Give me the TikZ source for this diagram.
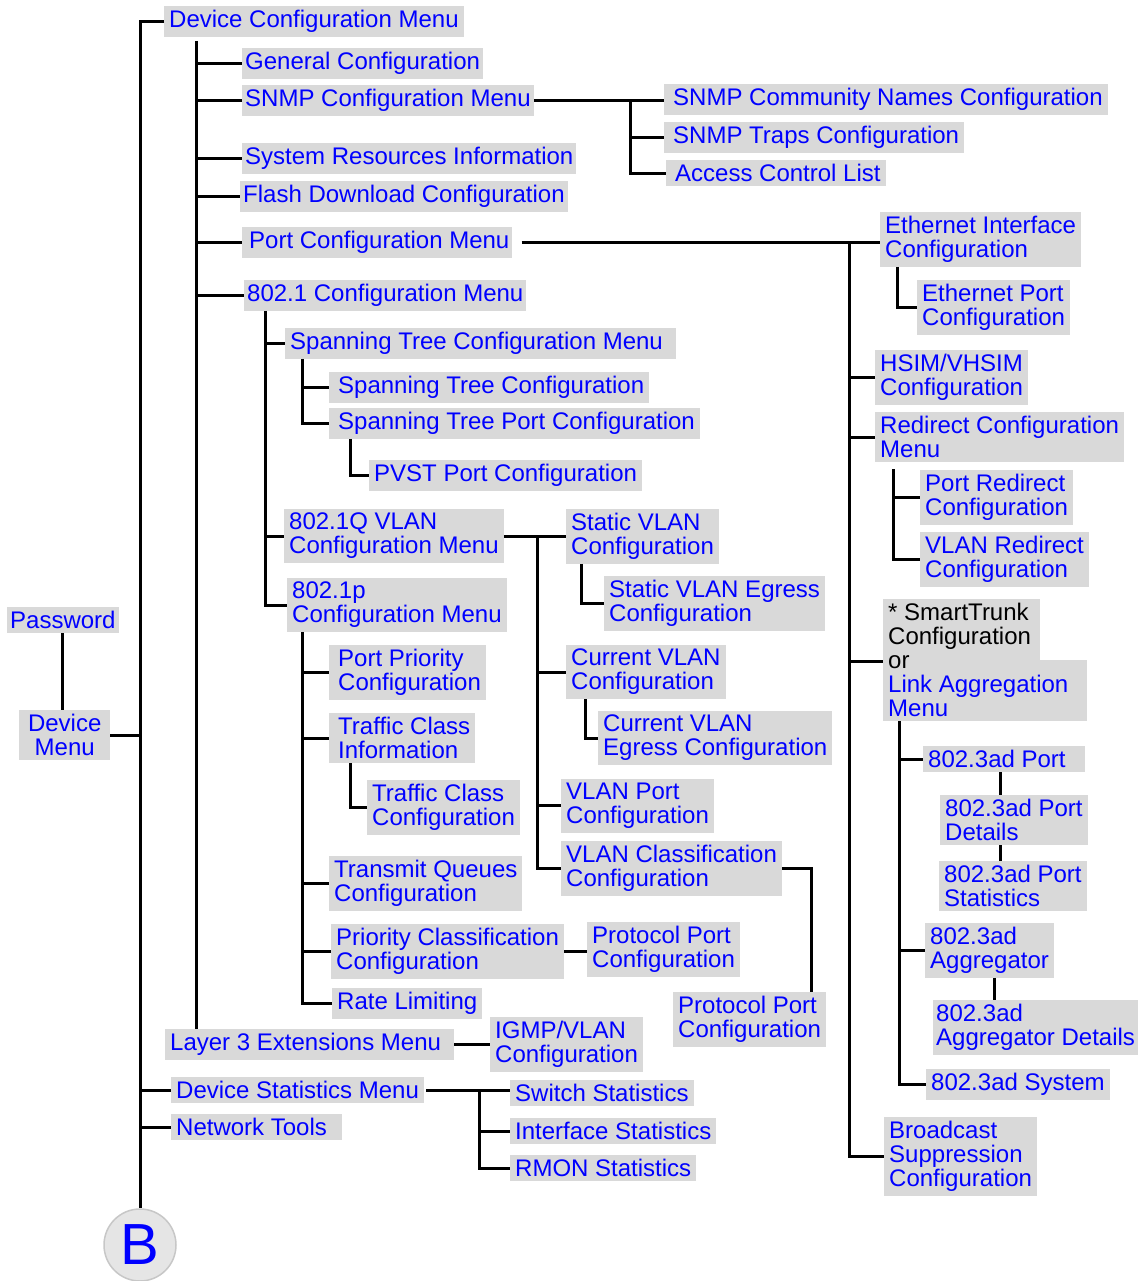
\documentclass[tikz,border=0pt]{standalone}
\usepackage{fontspec}
\setmainfont{Liberation Sans}
\usepackage{tikz}
\usetikzlibrary{backgrounds}
\usepackage{xcolor}
\colorlet{menublue}{blue}
\colorlet{boxgray}{black!15}

\begin{document}
\begin{tikzpicture}[
	x=1pt, y=1pt,
	line cap=butt, line join=miter,
	menu/.style={fill=boxgray, text=menublue, anchor=north west, align=left,
		inner xsep=5pt, inner ysep=4pt, font=\fontsize{24}{24}\selectfont},
	link/.style={black, line width=3pt}
]
	\useasboundingbox (0,0) rectangle (1145,-1281);

	% left column
	\node[menu, inner xsep=3pt] (pw) at (7,-607) {Password};
	\node[menu, align=center, minimum width=91pt] (dev) at (19,-710) {Device\\Menu};
	\node[circle, fill=black!10, draw=black!22, line width=1.5pt, minimum size=72pt,
		inner sep=0pt, text=menublue, font=\fontsize{58}{58}\selectfont] (bee) at (140,-1245) {B};

	% device configuration menu
	\node[menu] (dcm) at (164,-6) {Device Configuration Menu};
	\node[menu, inner xsep=3pt] (gen) at (242,-48) {General Configuration};
	\node[menu, inner xsep=3pt] (snmp) at (242,-85) {SNMP Configuration Menu};
	\node[menu, inner xsep=3pt] (sys) at (242,-143) {System Resources Information};
	\node[menu, inner xsep=3pt] (flash) at (240,-181) {Flash Download Configuration};
	\node[menu, inner xsep=3pt] (port) at (242,-227) {\,Port Configuration Menu};
	\node[menu, inner xsep=3pt] (dot1) at (244,-280) {802.1 Configuration Menu};

	% snmp
	\node[menu] (comm) at (664,-84) {\,SNMP Community Names Configuration};
	\node[menu] (traps) at (664,-122) {\,SNMP Traps Configuration};
	\node[menu] (acl) at (666,-160) {\,Access Control List};

	% port configuration
	\node[menu] (eth) at (880,-212) {Ethernet Interface\\Configuration};
	\node[menu] (ethp) at (917,-280) {Ethernet Port\\Configuration};
	\node[menu] (hsim) at (875,-350) {HSIM/VHSIM\\Configuration};
	\node[menu] (redir) at (875,-412) {Redirect Configuration\\Menu};
	\node[menu] (predir) at (920,-470) {Port Redirect\\Configuration};
	\node[menu] (vredir) at (920,-532) {VLAN Redirect\\Configuration};
	\node[menu, fill=none] (lag) at (883,-599) {\textcolor{black}{* SmartTrunk}\\\textcolor{black}{Configuration}\\\textcolor{black}{or}\\Link Aggregation\\Menu};
	\begin{scope}[on background layer]
		\fill[boxgray] (lag.north west) rectangle (1040,-660);
		\fill[boxgray] (lag.south west) rectangle (1087,-660);
	\end{scope}
	\node[menu] (p3port) at (923,-746) {802.3ad Port\hspace{14pt}};
	\node[menu] (p3det) at (940,-795) {802.3ad Port\hspace{6pt}\\Details};
	\node[menu] (p3stat) at (939,-861) {802.3ad Port\\Statistics};
	\node[menu] (p3agg) at (925,-923) {802.3ad\\Aggregator};
	\node[menu, inner xsep=3pt] (p3aggd) at (933,-1000) {802.3ad\\Aggregator Details};
	\node[menu] (p3sys) at (926,-1069) {802.3ad System};
	\node[menu] (bcast) at (884,-1117) {Broadcast\\Suppression\\Configuration\hspace{6pt}};

	% 802.1
	\node[menu] (stm) at (285,-328) {Spanning Tree Configuration Menu\hspace{8pt}};
	\node[menu] (stc) at (329,-372) {\,Spanning Tree Configuration};
	\node[menu] (stp) at (329,-408) {\,Spanning Tree Port Configuration};
	\node[menu] (pvst) at (369,-460) {PVST Port Configuration};
	\node[menu] (vlan) at (284,-509) {802.1Q VLAN\\Configuration Menu};
	\node[menu] (dotp) at (287,-578) {802.1p\\Configuration Menu};
	\node[menu] (prio) at (329,-645) {\,Port Priority\\\,Configuration};
	\node[menu] (tci) at (329,-713) {\,Traffic Class\\\,Information};
	\node[menu] (tcc) at (367,-780) {Traffic Class\\Configuration};
	\node[menu] (txq) at (329,-856) {Transmit Queues\\Configuration};
	\node[menu] (pcl) at (331,-924) {Priority Classification\\Configuration};
	\node[menu] (ppa) at (587,-922) {Protocol Port\\Configuration};
	\node[menu] (rate) at (332,-988) {Rate Limiting};

	% 802.1q vlan
	\node[menu] (svlan) at (566,-509) {Static VLAN\\Configuration};
	\node[menu] (sveg) at (604,-576) {Static VLAN Egress\\Configuration};
	\node[menu] (cvlan) at (566,-645) {Current VLAN\\Configuration};
	\node[menu] (cveg) at (598,-711) {Current VLAN\\Egress Configuration};
	\node[menu] (vport) at (561,-779) {VLAN Port\\Configuration};
	\node[menu] (vclass) at (561,-841) {VLAN Classification\\Configuration};
	\node[menu] (ppb) at (673,-992) {Protocol Port\\Configuration};

	% layer 3, statistics, tools
	\node[menu] (l3) at (165,-1029) {Layer 3 Extensions Menu\hspace{8pt}};
	\node[menu] (igmp) at (490,-1017) {IGMP/VLAN\\Configuration};
	\node[menu] (dsm) at (171,-1077) {Device Statistics Menu};
	\node[menu] (ntool) at (171,-1114) {Network Tools\hspace{10pt}};
	\node[menu] (sw) at (510,-1080) {Switch Statistics};
	\node[menu] (ifs) at (510,-1118) {Interface Statistics};
	\node[menu] (rmon) at (510,-1155) {RMON Statistics};

	% main trunk
	\draw[link] (dcm.west) -| (bee.north);
	\draw[link] (dev.east) -- (dev.east -| bee.north);
	\draw[link] (pw.south) -- (pw.south |- dev.north);
	\foreach \n in {dsm,ntool} \draw[link] (bee.north |- \n.west) -- (\n.west);

	% device configuration trunk
	\coordinate (tdcm) at ([xshift=32pt,yshift=-4pt]dcm.south west);
	\draw[link] (tdcm) -- (tdcm |- l3.north);
	\foreach \n in {gen,snmp,sys,flash,port,dot1} \draw[link] (tdcm |- \n.west) -- (\n.west);

	% snmp
	\coordinate (tsnmp) at (630,-98);
	\draw[link] (snmp.east) -- (snmp.east -| comm.west);
	\draw[link] (tsnmp |- snmp.east) |- (acl.west);
	\draw[link] (tsnmp |- traps.west) -- (traps.west);

	% port configuration
	\coordinate (tport) at (849,-241);
	\coordinate (lagin) at ([yshift=-62pt]lag.north west);
	\draw[link] ([xshift=9pt]port.east) -- (port.east -| eth.west);
	\draw[link] (tport |- port.east) |- (bcast.west);
	\foreach \n in {hsim,redir,lagin} \draw[link] (tport |- \n) -- (\n);
	\coordinate (teth) at ([xshift=17pt]eth.south west);
	\draw[link] (teth) |- (ethp.west);
	\coordinate (tredir) at ([xshift=18pt,yshift=-7pt]redir.south west);
	\draw[link] (tredir) |- (vredir.west);
	\draw[link] (tredir |- predir.west) -- (predir.west);
	\coordinate (tlag) at ([xshift=16pt]lag.south west);
	\draw[link] (tlag) |- (p3sys.west);
	\foreach \n in {p3port,p3agg} \draw[link] (tlag |- \n.west) -- (\n.west);
	\draw[link] ([xshift=-3pt]p3port.south) -- ([xshift=-3pt]p3port.south |- p3det.north);
	\draw[link] ([xshift=-3pt]p3port.south |- p3det.south) -- ([xshift=-3pt]p3port.south |- p3stat.north);
	\draw[link] ([xshift=5pt]p3agg.south) -- ([xshift=5pt]p3agg.south |- p3aggd.north);

	% 802.1
	\coordinate (tdot1) at ([xshift=21pt]dot1.south west);
	\draw[link] (tdot1) |- (dotp.west);
	\foreach \n in {stm,vlan} \draw[link] (tdot1 |- \n.west) -- (\n.west);
	\coordinate (tstm) at ([xshift=17pt]stm.south west);
	\draw[link] (tstm) |- (stp.west);
	\draw[link] (tstm |- stc.west) -- (stc.west);
	\coordinate (tstp) at ([xshift=21pt]stp.south west);
	\draw[link] (tstp) |- (pvst.west);
	\coordinate (tdotp) at ([xshift=15pt]dotp.south west);
	\draw[link] (tdotp) |- (rate.west);
	\foreach \n in {prio,tci,txq,pcl} \draw[link] (tdotp |- \n.west) -- (\n.west);
	\coordinate (ttci) at ([xshift=21pt]tci.south west);
	\draw[link] (ttci) |- (tcc.west);
	\draw[link] (pcl.east) -- (pcl.east -| ppa.west);

	% 802.1q vlan
	\coordinate (tvlan) at (537,-534);
	\draw[link] (vlan.east) -- (vlan.east -| svlan.west);
	\draw[link] (tvlan |- vlan.east) |- (vclass.west);
	\foreach \n in {cvlan,vport} \draw[link] (tvlan |- \n.west) -- (\n.west);
	\coordinate (tsvlan) at ([xshift=15pt]svlan.south west);
	\draw[link] (tsvlan) |- (sveg.west);
	\coordinate (tcvlan) at ([xshift=19pt]cvlan.south west);
	\draw[link] (tcvlan) |- (cveg.west);
	\draw[link] (vclass.east) -| ([xshift=-15pt]ppb.north east);

	% layer 3 and statistics
	\draw[link] (l3.east) -- (l3.east -| igmp.west);
	\coordinate (tdsm) at (479,-1096);
	\draw[link] ([xshift=2pt]dsm.east) -- (dsm.east -| sw.west);
	\draw[link] (tdsm |- dsm.east) |- (rmon.west);
	\draw[link] (tdsm |- ifs.west) -- (ifs.west);
\end{tikzpicture}
\end{document}
